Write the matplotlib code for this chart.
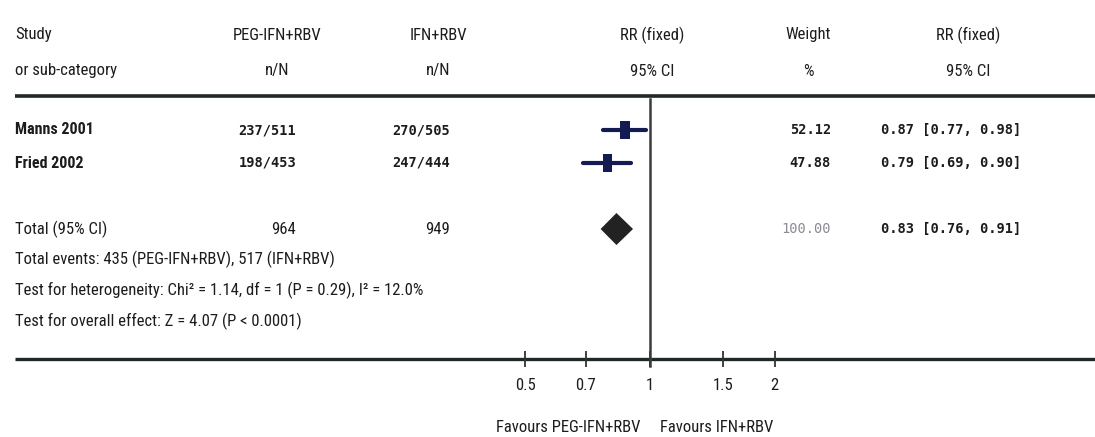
import numpy as np
import matplotlib
matplotlib.use("Agg")
import matplotlib.pyplot as plt
from matplotlib import font_manager

# ---- data -------------------------------------------------------------
studies = ["Manns 2001", "Fried 2002"]
treat_events = [237, 198]
treat_total = [511, 453]
ctrl_events = [270, 247]
ctrl_total = [505, 444]
rr = [0.87, 0.79]
ci_low = [0.77, 0.69]
ci_high = [0.98, 0.90]
weights = [52.12, 47.88]

pooled_rr = 0.83
pooled_low = 0.76
pooled_high = 0.91
pooled_weight = 100.00

treat_label = "PEG-IFN+RBV"
ctrl_label = "IFN+RBV"
total_events_treat = 435
total_events_ctrl = 517
chi2, df, p_het, i2 = 1.14, 1, 0.29, 12.0
z_overall, p_overall = 4.07, "< 0.0001"

xticks = [0.5, 0.7, 1, 1.5, 2]
xtick_labels = ["0.5", "0.7", "1", "1.5", "2"]

# ---- fonts --------------------------------------------------------------
available = {f.name for f in font_manager.fontManager.ttflist}


def pick(cands):
    for c in cands:
        if c in available:
            return c
    return "DejaVu Sans"


narrow = pick(["Liberation Sans Narrow", "DejaVu Sans Condensed", "Roboto Condensed",
               "Liberation Sans"])
mono = pick(["DejaVu Sans Mono", "Liberation Mono"])

INK = "#1c1c1c"
NAVY = "#141a52"

W, H = 1095, 437
fig = plt.figure(figsize=(W / 100, H / 100), dpi=100)

# background layer in pixel coordinates for the table text and rules
bg = fig.add_axes([0, 0, 1, 1])
bg.set_xlim(0, W)
bg.set_ylim(H, 0)
bg.axis("off")

# row layout (pixels from top)
y_head1, y_head2 = 35, 71
y_rule = 96
y_rows = [130, 163]
y_total = 229
y_notes = [259, 290, 321]
y_axis = 359

x_left = 15
x_treat_c, x_ctrl_c = 277, 438
x_treat_r, x_ctrl_r = 296, 450
x_plot_c = 652
x_weight_c, x_weight_r = 808, 831
x_ci_c, x_ci_l = 968, 881

hdr = dict(fontfamily=narrow, fontsize=12, color=INK, va="center")
bg.text(x_left, y_head1, "Study", ha="left", **hdr)
bg.text(x_left, y_head2, "or sub-category", ha="left", **hdr)
bg.text(x_treat_c, y_head1, treat_label, ha="center", **hdr)
bg.text(x_treat_c, y_head2, "n/N", ha="center", **hdr)
bg.text(x_ctrl_c, y_head1, ctrl_label, ha="center", **hdr)
bg.text(x_ctrl_c, y_head2, "n/N", ha="center", **hdr)
bg.text(x_plot_c, y_head1, "RR (fixed)", ha="center", **hdr)
bg.text(x_plot_c, y_head2, "95% CI", ha="center", **hdr)
bg.text(x_weight_c, y_head1, "Weight", ha="center", **hdr)
bg.text(x_weight_c, y_head2, "%", ha="center", **hdr)
bg.text(x_ci_c, y_head1, "RR (fixed)", ha="center", **hdr)
bg.text(x_ci_c, y_head2, "95% CI", ha="center", **hdr)

# horizontal rules
bg.plot([x_left, W], [y_rule, y_rule], color="#20282a", lw=2.6, solid_capstyle="butt")
bg.plot([x_left, W], [y_axis, y_axis], color="#20282a", lw=2.4, solid_capstyle="butt")

num = dict(fontfamily=mono, fontsize=9.8, color=INK, va="center", fontweight="bold")
name = dict(fontfamily=narrow, fontsize=11.5, color=INK, va="center", fontweight="bold")
for i, y in enumerate(y_rows):
    bg.text(x_left, y, studies[i], ha="left", **name)
    bg.text(x_treat_r, y, f"{treat_events[i]}/{treat_total[i]}", ha="right", **num)
    bg.text(x_ctrl_r, y, f"{ctrl_events[i]}/{ctrl_total[i]}", ha="right", **num)
    bg.text(x_weight_r, y, f"{weights[i]:.2f}", ha="right", **num)
    bg.text(x_ci_l, y, f"{rr[i]:.2f} [{ci_low[i]:.2f}, {ci_high[i]:.2f}]", ha="left", **num)

bg.text(x_left, y_total, "Total (95% CI)", ha="left", **hdr)
bg.text(x_treat_r, y_total, f"{sum(treat_total)}", ha="right", **hdr)
bg.text(x_ctrl_r, y_total, f"{sum(ctrl_total)}", ha="right", **hdr)
bg.text(x_weight_r, y_total, f"{pooled_weight:.2f}", ha="right",
        **{**num, "color": "#8a8a92", "fontweight": "normal"})
bg.text(x_ci_l, y_total, f"{pooled_rr:.2f} [{pooled_low:.2f}, {pooled_high:.2f}]",
        ha="left", **num)

notes = [
    f"Total events: {total_events_treat} ({treat_label}), {total_events_ctrl} ({ctrl_label})",
    f"Test for heterogeneity: Chi\u00b2 = {chi2:.2f}, df = {df} (P = {p_het:.2f}), I\u00b2 = {i2:.1f}%",
    f"Test for overall effect: Z = {z_overall:.2f} (P {p_overall})",
]
for y, t in zip(y_notes, notes):
    bg.text(x_left, y, t, ha="left", **hdr)

# ---- forest panel (log scale, 180 px per natural-log unit, RR=1 at x=650) ---
x_one = 650
px_per_log = 180
lo_px, hi_px = 470, 830
ax = fig.add_axes([lo_px / W, (H - y_axis) / H, (hi_px - lo_px) / W, (y_axis - y_rule) / H])
ax.set_xscale("log")
ax.set_xlim(np.exp((lo_px - x_one) / px_per_log), np.exp((hi_px - x_one) / px_per_log))
ax.set_ylim(y_axis, y_rule)
ax.patch.set_alpha(0)
for s in ax.spines.values():
    s.set_visible(False)
ax.set_yticks([])
ax.set_xticks(xticks)
ax.set_xticklabels(xtick_labels)
ax.minorticks_off()
ax.tick_params(axis="x", direction="inout", length=11, width=1.3, color="#333",
               pad=8, labelsize=12, labelcolor=INK)
for lab in ax.get_xticklabels():
    lab.set_fontfamily(narrow)

ax.plot([1, 1], [y_rule + 3, y_axis + 7], color="#3a3a3a", lw=1.8, clip_on=False)

for i, y in enumerate(y_rows):
    ax.plot([ci_low[i], ci_high[i]], [y, y], color=NAVY, lw=3, solid_capstyle="round")
    # weighted study box
    half_w = 0.028 * (weights[i] / 50)
    ax.fill([rr[i] * np.exp(-half_w), rr[i] * np.exp(half_w), rr[i] * np.exp(half_w),
             rr[i] * np.exp(-half_w)],
            [y - 9, y - 9, y + 9, y + 9], color=NAVY, lw=0)

# pooled diamond
ax.fill([pooled_low, pooled_rr, pooled_high, pooled_rr],
        [y_total, y_total - 16, y_total, y_total + 16], color="#222222", lw=0)

# direction labels
fav = dict(fontfamily=narrow, fontsize=12, color=INK, va="center")
bg.text(640, 427, f"Favours {treat_label}", ha="right", **fav)
bg.text(660, 427, f"Favours {ctrl_label}", ha="left", **fav)

fig.savefig("out.png", dpi=100)
